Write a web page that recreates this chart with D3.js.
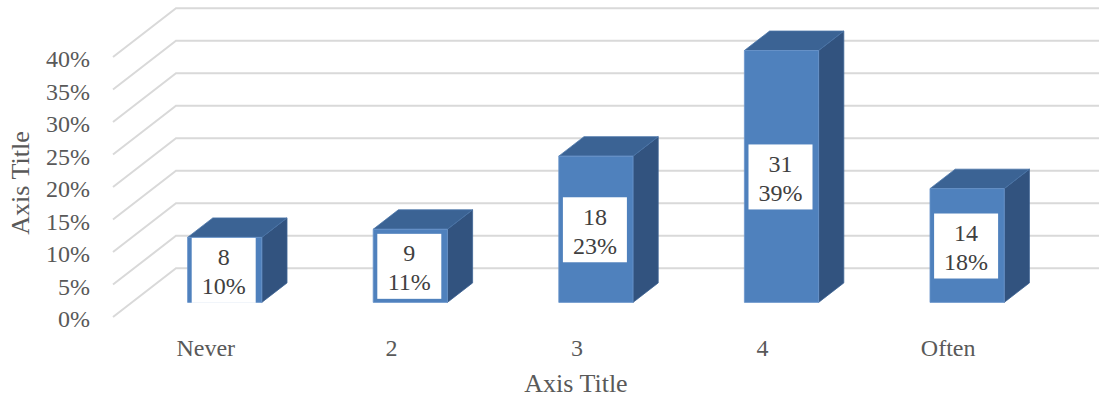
<!DOCTYPE html>
<html>
<head>
<meta charset="utf-8">
<script src="https://cdn.jsdelivr.net/npm/d3@7"></script>
<style>
  html, body { margin: 0; padding: 0; background: #fff; }
  svg { display: block; }
  text { font-family: "Liberation Serif", "DejaVu Serif", serif; }
</style>
</head>
<body>
<svg id="chart" width="1099" height="401"></svg>
<script>
// Survey answers: how many respondents picked each option
const categories = ["Never", "2", "3", "4", "Often"];
const counts = [8, 9, 18, 31, 14];
const yTicks = [0, 0.05, 0.10, 0.15, 0.20, 0.25, 0.30, 0.35, 0.40];
const xTitle = "Axis Title";
const yTitle = "Axis Title";

const total = d3.sum(counts);
const shares = counts.map(c => c / total);

const W = 1099, H = 401;
const svg = d3.select("#chart");
const fontFamily = '"Liberation Serif", "DejaVu Serif", serif';

// Oblique projection of the 3-D plot box
const floorLeft = 113, floorRight = 1041;
const depthX = 63, depthY = -48.7;
const y = d3.scaleLinear().domain([0, 0.4]).range([317, 57]);
const x = d3.scaleBand().domain(categories).range([floorLeft, floorRight]);
const proj = (px, v, d) => [px + d * depthX, y(v) + d * depthY];

const textColor = "#595959";
const gridColor = "#d9d9d9";

// Side wall diagonals and back wall gridlines
const grid = svg.append("g");
yTicks.forEach(t => {
  const a = proj(floorLeft, t, 0), b = proj(floorLeft, t, 1);
  grid.append("path")
    .attr("d", `M${a[0]},${a[1]}L${b[0]},${b[1]}L${W},${b[1]}`)
    .attr("fill", "none").attr("stroke", gridColor).attr("stroke-width", 2);
});

// Value axis labels
const yAxis = d3.axisLeft(y).tickValues(yTicks).tickFormat(d3.format(".0%")).tickSize(0).tickPadding(0);
const ya = svg.append("g").attr("transform", "translate(90,2)").call(yAxis);
ya.select(".domain").remove();
ya.selectAll("text").attr("fill", textColor).style("font-size", "24px")
  .style("font-family", fontFamily);

// Bars as boxes: front, top, side
const front = 0.3, back = 0.7;
const barW = x.bandwidth() * 0.4;
const bars = svg.append("g");
categories.forEach((c, i) => {
  const v = shares[i];
  const cx = x(c) + x.bandwidth() / 2;
  const l = cx - barW / 2, r = cx + barW / 2;
  const fTL = proj(l, v, front), fTR = proj(r, v, front), fBR = proj(r, 0, front), fBL = proj(l, 0, front);
  const bTL = proj(l, v, back), bTR = proj(r, v, back), bBR = proj(r, 0, back);
  const poly = pts => "M" + pts.map(p => p.join(",")).join("L") + "Z";
  bars.append("path").attr("d", poly([fTR, bTR, bBR, fBR]))
    .attr("fill", "#32537f").attr("stroke", "#3f6594").attr("stroke-width", 0.8);
  bars.append("path").attr("d", poly([fTL, fTR, bTR, bTL]))
    .attr("fill", "#3b6394").attr("stroke", "#4a75a8").attr("stroke-width", 0.8);
  bars.append("path").attr("d", poly([fTL, fTR, fBR, fBL]))
    .attr("fill", "#4f81bd").attr("stroke", "#6b96cb").attr("stroke-width", 0.8);

  // Data label: count and share
  const mx = (fTL[0] + fTR[0]) / 2 - 1;
  const my = (fTL[1] + fBL[1]) / 2 + 0.5;
  const lab = svg.append("g").attr("transform", `translate(${mx},${my})`);
  lab.append("rect").attr("x", -32).attr("y", -32.5).attr("width", 64).attr("height", 65).attr("fill", "#fff");
  lab.append("text").attr("text-anchor", "middle").attr("y", -5).attr("fill", "#404040")
    .style("font-size", "24px").text(counts[i]);
  lab.append("text").attr("text-anchor", "middle").attr("y", 24).attr("fill", "#404040")
    .style("font-size", "24px").text(Math.round(v * 100) + "%");
});

// Category labels along the front floor edge
const xAxis = d3.axisBottom(x).tickSize(0).tickPadding(0);
const xa = svg.append("g").attr("transform", "translate(0,339)").call(xAxis);
xa.select(".domain").remove();
xa.selectAll("text").attr("fill", textColor).style("font-size", "24px")
  .style("font-family", fontFamily);

// Axis titles
svg.append("text").attr("x", 576).attr("y", 392).attr("text-anchor", "middle")
  .attr("fill", textColor).style("font-size", "26px").text(xTitle);
svg.append("text").attr("transform", "translate(29,183) rotate(-90)").attr("text-anchor", "middle")
  .attr("fill", textColor).style("font-size", "26px").text(yTitle);
</script>
</body>
</html>
